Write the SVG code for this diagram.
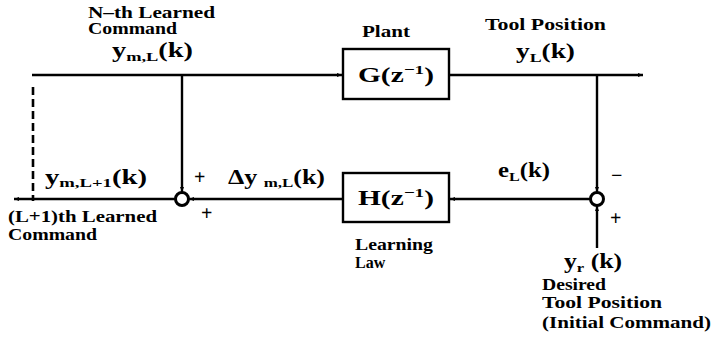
<svg xmlns="http://www.w3.org/2000/svg" width="713" height="339" viewBox="0 0 713 339">
<style>
.lbl{font-family:"Liberation Serif","DejaVu Serif",serif;font-weight:bold;font-size:16px;fill:#000}
.math{font-family:"Liberation Serif","DejaVu Serif",serif;font-weight:bold;font-size:20px;fill:#000}
.sub{font-size:13px}
.sup{font-size:13px}
.pm{font-family:"Liberation Serif",serif;font-weight:bold;font-size:20px;fill:#000}
.ln{stroke:#000;stroke-width:2.4;fill:none}
.dash{stroke:#000;stroke-width:2.6;fill:none}
.box{stroke:#000;stroke-width:2.4;fill:#fff}
.sum{stroke:#000;stroke-width:3;fill:#fff}
</style>
<defs>
<marker id="ah" markerWidth="6" markerHeight="5" refX="5" refY="2.5" orient="auto" markerUnits="userSpaceOnUse">
<path d="M0,0.5 L5,2.5 L0,4.5 Z" fill="#000"/>
</marker>
</defs>
<rect width="713" height="339" fill="#fff"/>
<g id="connectors">
<path class="ln" d="M32,75 H342" marker-end="url(#ah)"/>
<path class="ln" d="M450,75 H643" marker-end="url(#ah)"/>
<path class="ln" d="M597,75 V192" marker-end="url(#ah)"/>
<path class="ln" d="M597,248 V206" marker-end="url(#ah)"/>
<path class="ln" d="M590,199 H450" marker-end="url(#ah)"/>
<path class="ln" d="M342,199 H189" marker-end="url(#ah)"/>
<path class="ln" d="M182,75 V192" marker-end="url(#ah)"/>
<path class="ln" d="M175,199 H14" marker-end="url(#ah)"/>
<path class="dash" d="M33,87 v8 m0,4 v8 m0,4 v8 m0,4 v8 m0,4 v8 m0,4 v8 m0,4 v8 m0,4 v8 m0,4 v8 m0,4 v6"/>
</g>
<g id="plant">
<rect class="box" x="343" y="49" width="106" height="50"/>
<text class="math" x="358" y="82" textLength="76" lengthAdjust="spacingAndGlyphs">G(z<tspan class="sup" dy="-8">−1</tspan><tspan dy="8">)</tspan></text>
<text class="lbl" x="362" y="37" textLength="48" lengthAdjust="spacingAndGlyphs">Plant</text>
</g>
<g id="learning-law">
<rect class="box" x="343" y="173" width="106" height="49"/>
<text class="math" x="358" y="205" textLength="76" lengthAdjust="spacingAndGlyphs">H(z<tspan class="sup" dy="-8">−1</tspan><tspan dy="8">)</tspan></text>
<text class="lbl" x="355" y="250" textLength="78" lengthAdjust="spacingAndGlyphs">Learning</text>
<text class="lbl" x="355" y="268">Law</text>
</g>
<g id="sum-left">
<circle class="sum" cx="182" cy="199" r="6.5"/>
<text class="pm" x="194" y="184">+</text>
<text class="pm" x="201" y="220">+</text>
</g>
<g id="sum-right">
<circle class="sum" cx="597" cy="199" r="6.5"/>
<text class="pm" x="611" y="182">−</text>
<text class="pm" x="610" y="225">+</text>
</g>
<g id="labels">
<text class="lbl" x="88" y="18" textLength="127" lengthAdjust="spacingAndGlyphs">N–th Learned</text>
<text class="lbl" x="88" y="34" textLength="89" lengthAdjust="spacingAndGlyphs">Command</text>
<text class="math" x="112" y="57" textLength="81" lengthAdjust="spacingAndGlyphs">y<tspan class="sub" dy="4">m,L</tspan><tspan dy="-4">(k)</tspan></text>
<text class="lbl" x="485" y="30" textLength="121" lengthAdjust="spacingAndGlyphs">Tool Position</text>
<text class="math" x="516" y="58" textLength="59" lengthAdjust="spacingAndGlyphs">y<tspan class="sub" dy="4">L</tspan><tspan dy="-4">(k)</tspan></text>
<text class="math" x="45" y="184" textLength="102" lengthAdjust="spacingAndGlyphs">y<tspan class="sub" dy="3">m,L+1</tspan><tspan dy="-3">(k)</tspan></text>
<text class="math" x="228" y="184" textLength="97" lengthAdjust="spacingAndGlyphs">Δy <tspan class="sub" dy="3">m,L</tspan><tspan dy="-3">(k)</tspan></text>
<text class="lbl" x="8" y="222" textLength="149" lengthAdjust="spacingAndGlyphs">(L+1)th Learned</text>
<text class="lbl" x="8" y="240" textLength="89" lengthAdjust="spacingAndGlyphs">Command</text>
<text class="math" x="498" y="177" textLength="52" lengthAdjust="spacingAndGlyphs">e<tspan class="sub" dy="4">L</tspan><tspan dy="-4">(k)</tspan></text>
<text class="math" x="564" y="268" textLength="58" lengthAdjust="spacingAndGlyphs">y<tspan class="sub" dy="4">r</tspan><tspan dy="-4"> (k)</tspan></text>
<text class="lbl" x="542" y="290" textLength="64" lengthAdjust="spacingAndGlyphs">Desired</text>
<text class="lbl" x="542" y="308" textLength="120" lengthAdjust="spacingAndGlyphs">Tool Position</text>
<text class="lbl" x="542" y="328" textLength="169" lengthAdjust="spacingAndGlyphs">(Initial Command)</text>
</g>
</svg>
